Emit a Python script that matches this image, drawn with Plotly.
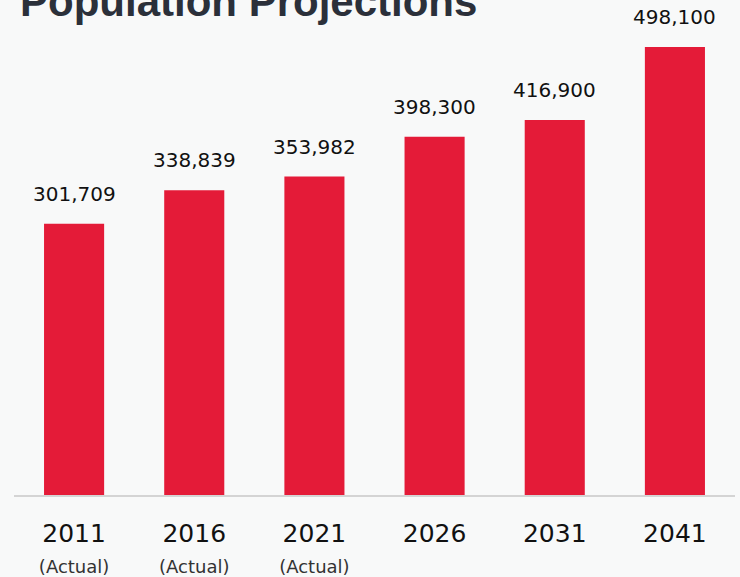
import plotly.graph_objects as go

years = ["2011", "2016", "2021", "2026", "2031", "2041"]
subtitles = ["(Actual)", "(Actual)", "(Actual)", "", "", ""]
population = [301709, 338839, 353982, 398300, 416900, 498100]
title_text = "Population Projections"

bar_color = "#E41B38"
bg = "#F8F9F9"

pos = list(range(len(years)))
ticktext = [
    f"<span style='font-size:25px'>{y}</span>"
    + (f"<br><span style='font-size:18px;color:#333333'>{s}</span>" if s else "")
    for y, s in zip(years, subtitles)
]

fig = go.Figure()
fig.add_trace(go.Bar(
    x=pos, y=population, marker=dict(color=bar_color, line=dict(width=0)),
    hoverinfo="skip",
))

for x, v in zip(pos, population):
    fig.add_annotation(
        x=x, y=v, text=f"{v:,}", showarrow=False, yanchor="bottom", yshift=16,
        font=dict(family="DejaVu Sans", size=20, color="#111111"),
    )

fig.add_annotation(
    xref="paper", yref="paper", x=0, y=1, xshift=4, yshift=29,
    xanchor="left", yanchor="middle", text=f"<b>{title_text}</b>", showarrow=False,
    font=dict(family="Liberation Sans", size=42, color="#2B303A"),
)

fig.update_layout(
    width=740, height=577,
    margin=dict(l=14, r=5, t=30, b=82, autoexpand=False),
    paper_bgcolor=bg, plot_bgcolor=bg,
    bargap=0.5,
    showlegend=False,
    xaxis=dict(
        range=[-0.5, len(years) - 0.5],
        tickmode="array", tickvals=pos, ticktext=ticktext, tickangle=0,
        tickfont=dict(family="DejaVu Sans", size=24, color="#111111"),
        showline=True, linecolor="#D4D4D4", linewidth=2, zeroline=False,
        showgrid=False, ticks="", ticklabelstandoff=16, automargin=False,
    ),
    yaxis=dict(range=[0, 517000], visible=False, showgrid=False, zeroline=False),
)

fig.write_html(
    "out.html",
    config={"displayModeBar": False},
    post_script="document.body.style.margin='0';document.body.style.overflow='hidden';",
)
